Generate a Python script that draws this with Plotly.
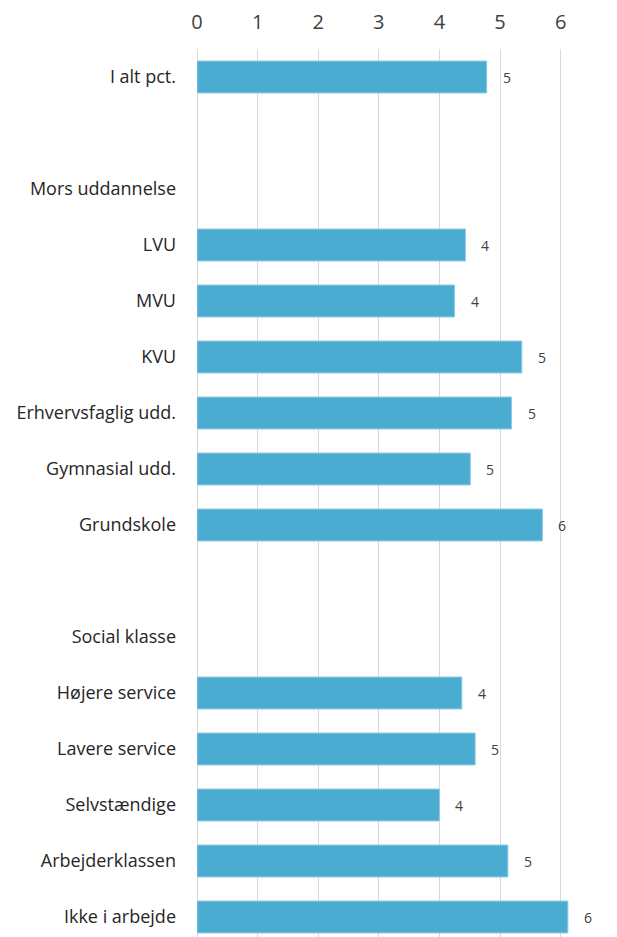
import plotly.graph_objects as go

categories = ["I alt pct.", "", "Mors uddannelse", "LVU", "MVU", "KVU",
              "Erhvervsfaglig udd.", "Gymnasial udd.", "Grundskole", "",
              "Social klasse", "Højere service", "Lavere service",
              "Selvstændige", "Arbejderklassen", "Ikke i arbejde"]
values = [4.78, None, None, 4.43, 4.25, 5.36, 5.19, 4.51, 5.70, None,
          None, 4.37, 4.59, 4.00, 5.13, 6.12]
x_ticks = [0, 1, 2, 3, 4, 5, 6, 7]

positions = list(range(len(categories)))
bar_y = [p for p, v in zip(positions, values) if v is not None]
bar_x = [v for v in values if v is not None]

fig = go.Figure()
fig.add_trace(go.Bar(
    x=bar_x, y=bar_y, orientation="h", width=0.57,
    marker=dict(color="#4BACD1", line=dict(color="#8FCBE3", width=1)),
    hoverinfo="x+y",
))

for y, v in zip(bar_y, bar_x):
    fig.add_annotation(x=v, y=y, text=f"{v:.0f}", showarrow=False,
                       xanchor="left", yanchor="middle", xshift=14,
                       font=dict(size=14, color="#404040", family="Open Sans"))

fig.update_layout(
    width=617, height=937,
    margin=dict(l=189, r=0, t=41, b=0),
    paper_bgcolor="white", plot_bgcolor="white",
    showlegend=False,
    font=dict(family="Open Sans", color="#404040"),
    xaxis=dict(side="top", range=[0, 428 / 60.6], tickvals=x_ticks,
               showgrid=True, gridcolor="#D9D9D9", gridwidth=1,
               zeroline=True, zerolinecolor="#D9D9D9", zerolinewidth=1,
               tickfont=dict(size=20, color="#404040"), ticks="",
               ticklabelstandoff=15),
    yaxis=dict(tickvals=positions, ticktext=categories,
               range=[15.5, -0.5], showgrid=False, zeroline=False,
               tickfont=dict(size=18, color="#262626"), ticks="",
               ticklabelstandoff=20),
)

fig.write_html("out.html")
